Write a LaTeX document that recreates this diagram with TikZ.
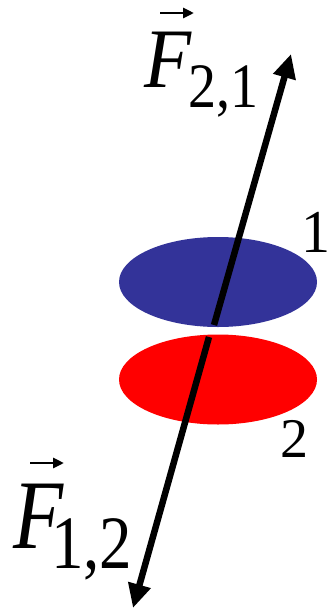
\documentclass[tikz,border=0pt]{standalone}
\usepackage{fontspec}
\setmainfont{Liberation Serif}
\usetikzlibrary{arrows.meta,shapes.geometric}
\definecolor{diskblue}{RGB}{51,51,153}
\definecolor{diskred}{RGB}{255,0,0}
\tikzset{
  disk/.style={ellipse, inner sep=0pt, minimum width=198pt, minimum height=90pt, draw=none},
  force/.style={line width=6.5pt, -{Triangle[length=24pt,width=22pt]}},
  vecarrow/.style={line width=2.8pt, -{Triangle[length=11pt,width=10pt]}},
  lbl/.style={anchor=base west, inner sep=0pt},
}
\begin{document}
\begin{tikzpicture}[x=1pt,y=-1pt]
\useasboundingbox (0,0) rectangle (328,611);
% disks
\node[disk, fill=diskblue] (d1) at (218,282) {};
\node[disk, fill=diskred] (d2) at (218,379.5) {};
% force arrows
\coordinate (u0) at (214,325);
\coordinate (u1) at (291,54);
\coordinate (w0) at (209,337);
\coordinate (w1) at (133,608);
\draw[force] (u0) -- (u1);
\draw[force] (w0) -- (w1);
% labels 1 and 2
\node[lbl, font=\fontsize{58}{58}\selectfont] (n1) at (301,252) {\scalebox{1}[1.05]{1}};
\node[lbl, font=\fontsize{56}{56}\selectfont] (n2) at (280,457) {2};
% F_{2,1}
\node[lbl, font=\fontsize{77}{77}\selectfont\itshape] (F21) at (144,87) {\scalebox{1}[1.1]{F}};
\node[lbl, font=\fontsize{56}{56}\selectfont] (S21) at (188,107) {\scalebox{1}[1.13]{2,1}};
\draw[vecarrow] (160,13) -- (194,13);
% F_{1,2}
\node[lbl, font=\fontsize{82}{82}\selectfont\itshape] (F12) at (13,548) {\scalebox{1}[1.2]{F}};
\node[lbl, font=\fontsize{65}{65}\selectfont] (S12) at (51,568) {\scalebox{1}[1.16]{1,2}};
\draw[vecarrow] (30,463) -- (64,463);
\end{tikzpicture}
\end{document}
